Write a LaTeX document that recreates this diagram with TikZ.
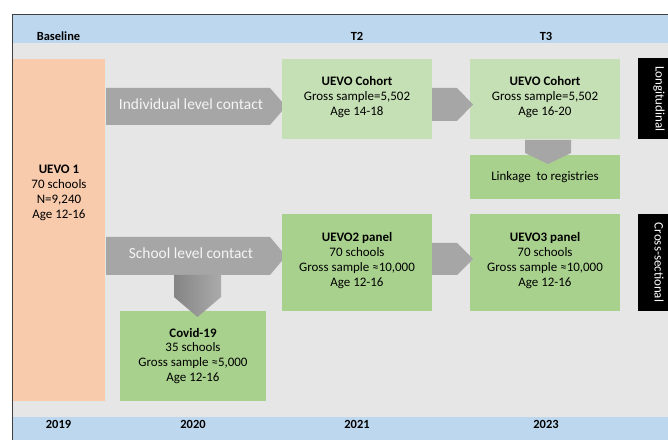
\documentclass[tikz,border=0pt]{standalone}
\usepackage{fontspec}
\setmainfont{Carlito}
\usepackage{tikz}
\usepackage{xcolor}

\definecolor{bandblue}{HTML}{BDD7EE}
\definecolor{bggray}{HTML}{E7E6E6}
\definecolor{peach}{HTML}{F8CBAD}
\definecolor{lightgreen}{HTML}{C5E0B4}
\definecolor{midgreen}{HTML}{A9D18E}
\definecolor{arrowgray}{HTML}{A6A6A6}

\begin{document}
\begin{tikzpicture}[x=1bp,y=-1bp,
  box/.style={inner sep=0pt, align=center, font=\fontsize{13}{15}\selectfont},
  sidebox/.style={fill=black, text=white, inner sep=0pt, font=\fontsize{13}{15}\selectfont},
  yearlabel/.style={font=\fontsize{12.5}{14}\selectfont\bfseries},
  arrowtext/.style={text=white!92!gray, font=\fontsize{15.5}{18}\selectfont}]
\useasboundingbox (0,0) rectangle (668,440);
\clip (0,0) rectangle (668,440);

% Background and time bands
\fill[bggray] (13,43) rectangle (668,417);
\fill[bandblue] (13,14) rectangle (668,43);
\fill[bandblue] (13,417) rectangle (668,440);
\draw[black!75, line width=0.8bp] (12.5,445) -- (12.5,14) -- (680,14);

% Wave labels
\node[yearlabel] (hbase) at (58.5,36) {Baseline};
\node[yearlabel] (ht2) at (357,36) {T2};
\node[yearlabel] (ht3) at (546,36) {T3};
\node[yearlabel] (y19) at (58.5,424) {2019};
\node[yearlabel] (y20) at (193,424) {2020};
\node[yearlabel] (y21) at (357,424) {2021};
\node[yearlabel] (y23) at (546,424) {2023};

% Baseline (text sits above the middle of the box)
\node[box, fill=peach, minimum width=92bp, minimum height=342bp] (uevo1) at (59,230) {};
\node[box] (uevo1text) at (59,193) {\textbf{UEVO 1}\\70 schools\\N=9,240\\Age 12-16};

% Longitudinal part
\fill[arrowgray] (106,88) -- (270,88) -- (286,106.5) -- (270,125) -- (106,125) -- cycle;
\node[arrowtext] (indiv) at (191,104) {Individual level contact};
\node[box, fill=lightgreen, minimum width=150bp, minimum height=80bp] (cohort2) at (357,99) {};
\node[box] at (357,97) {\textbf{UEVO Cohort}\\Gross sample=5,502\\Age 14-18};
\node[box, fill=lightgreen, minimum width=150bp, minimum height=80bp] (cohort3) at (545,99) {};
\node[box] at (545,97) {\textbf{UEVO Cohort}\\Gross sample=5,502\\Age 16-20};
\fill[arrowgray] (432,88) -- (457,88) -- (473,104.5) -- (457,121) -- (432,121) -- cycle;
\node[box, fill=midgreen, minimum width=150bp, minimum height=44bp] (linkage) at (545,177)
  {Linkage~~to registries};
\fill[arrowgray] (525,140) -- (571,140) -- (571,153) -- (548,164) -- (525,153) -- cycle;
\node[sidebox, minimum width=81bp, minimum height=42bp, rotate=-90] (longi) at (659,99) {Longitudinal};

% Cross-sectional part
\node[box, fill=midgreen, minimum width=146bp, minimum height=90bp] (covid) at (193,356)
  {\textbf{Covid-19}\\35 schools\\Gross sample ≈5,000\\Age 12-16};
\fill[arrowgray] (106,237) -- (270,237) -- (286,256) -- (270,275) -- (106,275) -- cycle;
\shade[left color=arrowgray!80!black, right color=arrowgray!95!white]
  (174,275) -- (221,275) -- (221,297) -- (197.5,317) -- (174,297) -- cycle;
\node[arrowtext] (school) at (191,253) {School level contact};
\node[box, fill=midgreen, minimum width=150bp, minimum height=97bp] (panel2) at (357,262.5) {};
\node[box] at (357,260.5) {\textbf{UEVO2 panel}\\70 schools\\Gross sample ≈10,000\\Age 12-16};
\node[box, fill=midgreen, minimum width=150bp, minimum height=97bp] (panel3) at (545,262.5) {};
\node[box] at (545,260.5) {\textbf{UEVO3 panel}\\70 schools\\Gross sample ≈10,000\\Age 12-16};
\fill[arrowgray] (432,243) -- (457,243) -- (473,259) -- (457,275) -- (432,275) -- cycle;
\node[sidebox, minimum width=97bp, minimum height=42bp, rotate=-90] (cross) at (659,262.5) {Cross-sectional};
\end{tikzpicture}
\end{document}
